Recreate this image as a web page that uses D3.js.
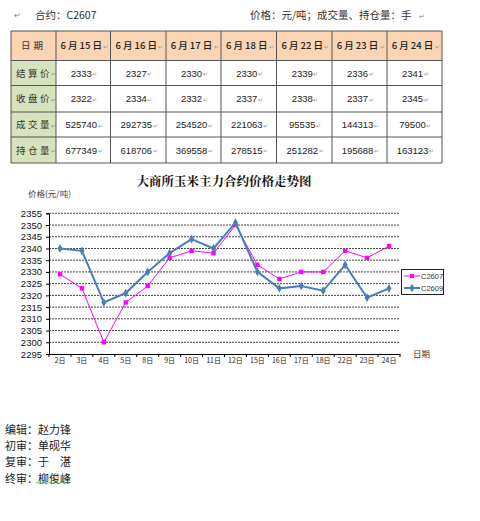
<!DOCTYPE html>
<html><head><meta charset="utf-8">
<script src="https://cdn.jsdelivr.net/npm/d3@7/dist/d3.min.js"></script>
<style>
body{margin:0;background:#fff;}
svg{display:block;}
</style></head>
<body>
<svg id="c" width="480" height="521"></svg>
<script>
// ---------- data ----------
const tableDates = ["6 月 15 日","6 月 16 日","6 月 17 日","6 月 18 日","6 月 22 日","6 月 23 日","6 月 24 日"];
const rowLabels = ["结算价","收盘价","成交量","持仓量"];
const settlePrice = [2333,2327,2330,2330,2339,2336,2341];
const closePrice = [2322,2334,2332,2337,2338,2337,2345];
const volume = [525740,292735,254520,221063,95535,144313,79500];
const openInterest = [677349,618706,369558,278515,251282,195688,163123];

const days = ["2日","3日","4日","5日","8日","9日","10日","11日","12日","15日","16日","17日","18日","22日","23日","24日"];
const c2607 = [2329,2323,2300,2317,2324,2336,2339,2338,2350,2333,2327,2330,2330,2339,2336,2341];
const c2609 = [2340,2339,2317,2321,2330,2338,2344,2340,2351,2330,2323,2324,2322,2333,2319,2323];
const yTicks = [2295,2300,2305,2310,2315,2320,2325,2330,2335,2340,2345,2350,2355];
const seriesNames = ["C2607","C2609"];
const footer = ["编辑：赵力锋","初审：单砚华","复审：于　湛","终审：柳俊峰"];

const cjk = "'Noto Sans CJK SC', sans-serif";
const lat = "'Liberation Sans', Arial, sans-serif";
const svg = d3.select("#c");
svg.append("rect").attr("width",480).attr("height",521).attr("fill","#fff");

// ---------- header line ----------
svg.append("text").attr("x",14).attr("y",18).attr("font-size",8).attr("fill","#888").attr("font-family",cjk).text("↵");
svg.append("text").attr("x",35).attr("y",19).attr("font-size",10.5).attr("fill","#333").attr("font-family",cjk).text("合约：C2607");
svg.append("text").attr("x",250).attr("y",19).attr("font-size",10.5).attr("fill","#333").attr("font-family",cjk).text("价格：元/吨；成交量、持仓量：手");
svg.append("text").attr("x",419).attr("y",19).attr("font-size",7).attr("fill","#888").attr("font-family",cjk).text("↵");

// ---------- table ----------
const colEdges = [11,56,110.5,166,221,276.5,332,387,442];
const rowEdges = [31,60.5,85.5,112,137,163];
const tbl = svg.append("g");
const rowsData = [settlePrice, closePrice, volume, openInterest];
tbl.append("rect").attr("x",colEdges[0]).attr("y",rowEdges[0]).attr("width",colEdges[8]-colEdges[0]).attr("height",rowEdges[1]-rowEdges[0]).attr("fill","#FBD4B4");
tbl.append("rect").attr("x",colEdges[0]).attr("y",rowEdges[1]).attr("width",colEdges[1]-colEdges[0]).attr("height",rowEdges[5]-rowEdges[1]).attr("fill","#D6E3BC");
tbl.append("text").attr("x",(colEdges[0]+colEdges[1])/2).attr("y",(rowEdges[0]+rowEdges[1])/2+3.5)
  .attr("text-anchor","middle").attr("font-size",9.5).attr("letter-spacing",3).attr("fill","#333").attr("font-family",cjk).text("日期");
tableDates.forEach((d,i)=>{
  const cx=(colEdges[i+1]+colEdges[i+2])/2;
  tbl.append("text").attr("x",cx-2).attr("y",(rowEdges[0]+rowEdges[1])/2+3.5)
    .attr("text-anchor","middle").attr("font-size",9.5).attr("font-weight",500).attr("fill","#222").attr("font-family",cjk).text(d);
  tbl.append("text").attr("x",cx+20).attr("y",(rowEdges[0]+rowEdges[1])/2+3).attr("font-size",6).attr("fill","#999").attr("font-family",cjk).text("↵");
});
rowLabels.forEach((l,r)=>{
  const cy=(rowEdges[r+1]+rowEdges[r+2])/2+3.5;
  tbl.append("text").attr("x",16).attr("y",cy).attr("font-size",9.5).attr("letter-spacing",2.5).attr("fill","#333").attr("font-family",cjk).text(l);
  tbl.append("text").attr("x",51).attr("y",cy-0.5).attr("font-size",6).attr("fill","#999").attr("font-family",cjk).text("↵");
  rowsData[r].forEach((v,i)=>{
    const cx=(colEdges[i+1]+colEdges[i+2])/2;
    tbl.append("text").attr("x",cx-2).attr("y",cy).attr("text-anchor","middle").attr("font-size",9.5).attr("fill","#222").attr("font-family",lat).text(v);
    const w = String(v).length*5.3;
    tbl.append("text").attr("x",cx-2+w/2+0.5).attr("y",cy-0.5).attr("font-size",6).attr("fill","#999").attr("font-family",cjk).text("↵");
  });
});
colEdges.forEach(x=>tbl.append("line").attr("x1",x).attr("x2",x).attr("y1",rowEdges[0]).attr("y2",rowEdges[5]).attr("stroke","#555").attr("stroke-width",1));
rowEdges.forEach(y=>tbl.append("line").attr("x1",colEdges[0]).attr("x2",colEdges[8]).attr("y1",y).attr("y2",y).attr("stroke","#555").attr("stroke-width",1));

// ---------- chart ----------
const x = d3.scaleBand().domain(days).range([49,400]);
const y = d3.scaleLinear().domain([2295,2355]).range([354,213.3]);

svg.append("text").attr("x",224).attr("y",186).attr("text-anchor","middle").attr("font-size",12.5).attr("font-weight","bold")
  .attr("fill","#111").attr("font-family","'Noto Serif CJK SC','Noto Sans CJK SC',serif").text("大商所玉米主力合约价格走势图");
svg.append("text").attr("x",28).attr("y",197).attr("font-size",8.5).attr("fill","#444").attr("font-family",cjk).text("价格(元/吨)");

svg.append("g").selectAll("line").data(yTicks.filter(t=>t>2295)).join("line")
  .attr("x1",49).attr("x2",400).attr("y1",d=>y(d)).attr("y2",d=>y(d))
  .attr("stroke","#444").attr("stroke-width",1).attr("stroke-dasharray","2,1");

const ya = svg.append("g").attr("transform","translate(49,0)")
  .call(d3.axisLeft(y).tickValues(yTicks).tickSize(3).tickFormat(d3.format("d")));
ya.select(".domain").attr("stroke","#000");
ya.selectAll(".tick line").attr("stroke","#000");
ya.selectAll("text").attr("font-size",9.5).attr("font-family",lat).attr("fill","#111").attr("dx",-1);

const xa = svg.append("g").attr("transform","translate(0,354)")
  .call(d3.axisBottom(x).tickSize(0).tickSizeOuter(0));
xa.select(".domain").attr("stroke","#000");
xa.selectAll("text").attr("font-size",7).attr("font-family",cjk).attr("fill","#222").attr("dy",6);
const edges = days.map(d=>x(d)).concat([400]);
svg.append("g").selectAll("line").data(edges).join("line")
  .attr("x1",e=>e).attr("x2",e=>e).attr("y1",354).attr("y2",357).attr("stroke","#000");
svg.append("text").attr("x",413).attr("y",357).attr("font-size",8.5).attr("fill","#333").attr("font-family",cjk).text("日期");

const cxf = k=>x(k)+x.bandwidth()/2;
const lineGen = d3.line().x((v,i)=>cxf(days[i])).y(v=>y(v));
svg.append("path").datum(c2607).attr("d",lineGen).attr("fill","none").attr("stroke","#FF00FF").attr("stroke-width",1);
svg.append("g").selectAll("rect").data(c2607).join("rect")
  .attr("x",(v,i)=>cxf(days[i])-2.2).attr("y",v=>y(v)-2.2).attr("width",4.4).attr("height",4.4).attr("fill","#FF00FF");
svg.append("path").datum(c2609).attr("d",lineGen).attr("fill","none").attr("stroke","#4A7EBB").attr("stroke-width",2);
const diamond = d3.symbol().type(d3.symbolDiamond).size(22);
svg.append("g").selectAll("path").data(c2609).join("path")
  .attr("transform",(v,i)=>`translate(${cxf(days[i])},${y(v)})`).attr("d",diamond).attr("fill","#4A7EBB");

const lg = svg.append("g");
lg.append("rect").attr("x",401.5).attr("y",269.5).attr("width",42).attr("height",25).attr("fill","#fff").attr("stroke","#222").attr("stroke-width",1);
lg.append("line").attr("x1",404).attr("x2",420).attr("y1",276).attr("y2",276).attr("stroke","#FF00FF").attr("stroke-width",1);
lg.append("rect").attr("x",410).attr("y",274).attr("width",4).attr("height",4).attr("fill","#FF00FF");
lg.append("line").attr("x1",404).attr("x2",420).attr("y1",288).attr("y2",288).attr("stroke","#4A7EBB").attr("stroke-width",2);
lg.append("path").attr("transform","translate(412,288)").attr("d",diamond).attr("fill","#4A7EBB");
seriesNames.forEach((n,i)=>lg.append("text").attr("x",421).attr("y",279+i*12).attr("font-size",7.5).attr("fill","#333").attr("font-family",lat).text(n));

// ---------- footer ----------
svg.append("g").selectAll("text").data(footer).join("text")
  .attr("x",5).attr("y",(t,i)=>434+i*16.2).attr("font-size",11).attr("fill","#222").attr("font-family",cjk).text(t=>t);
svg.append("path").attr("d","M36,483 q1.5,-1.5 3,0 t3,0 t3,0 t3,0 t3,0 t3,0 t3,0 t3,0 t3,0 t3,0 t3,0").attr("fill","none").attr("stroke","#4a4").attr("stroke-width",0.8);
</script>
</body></html>
